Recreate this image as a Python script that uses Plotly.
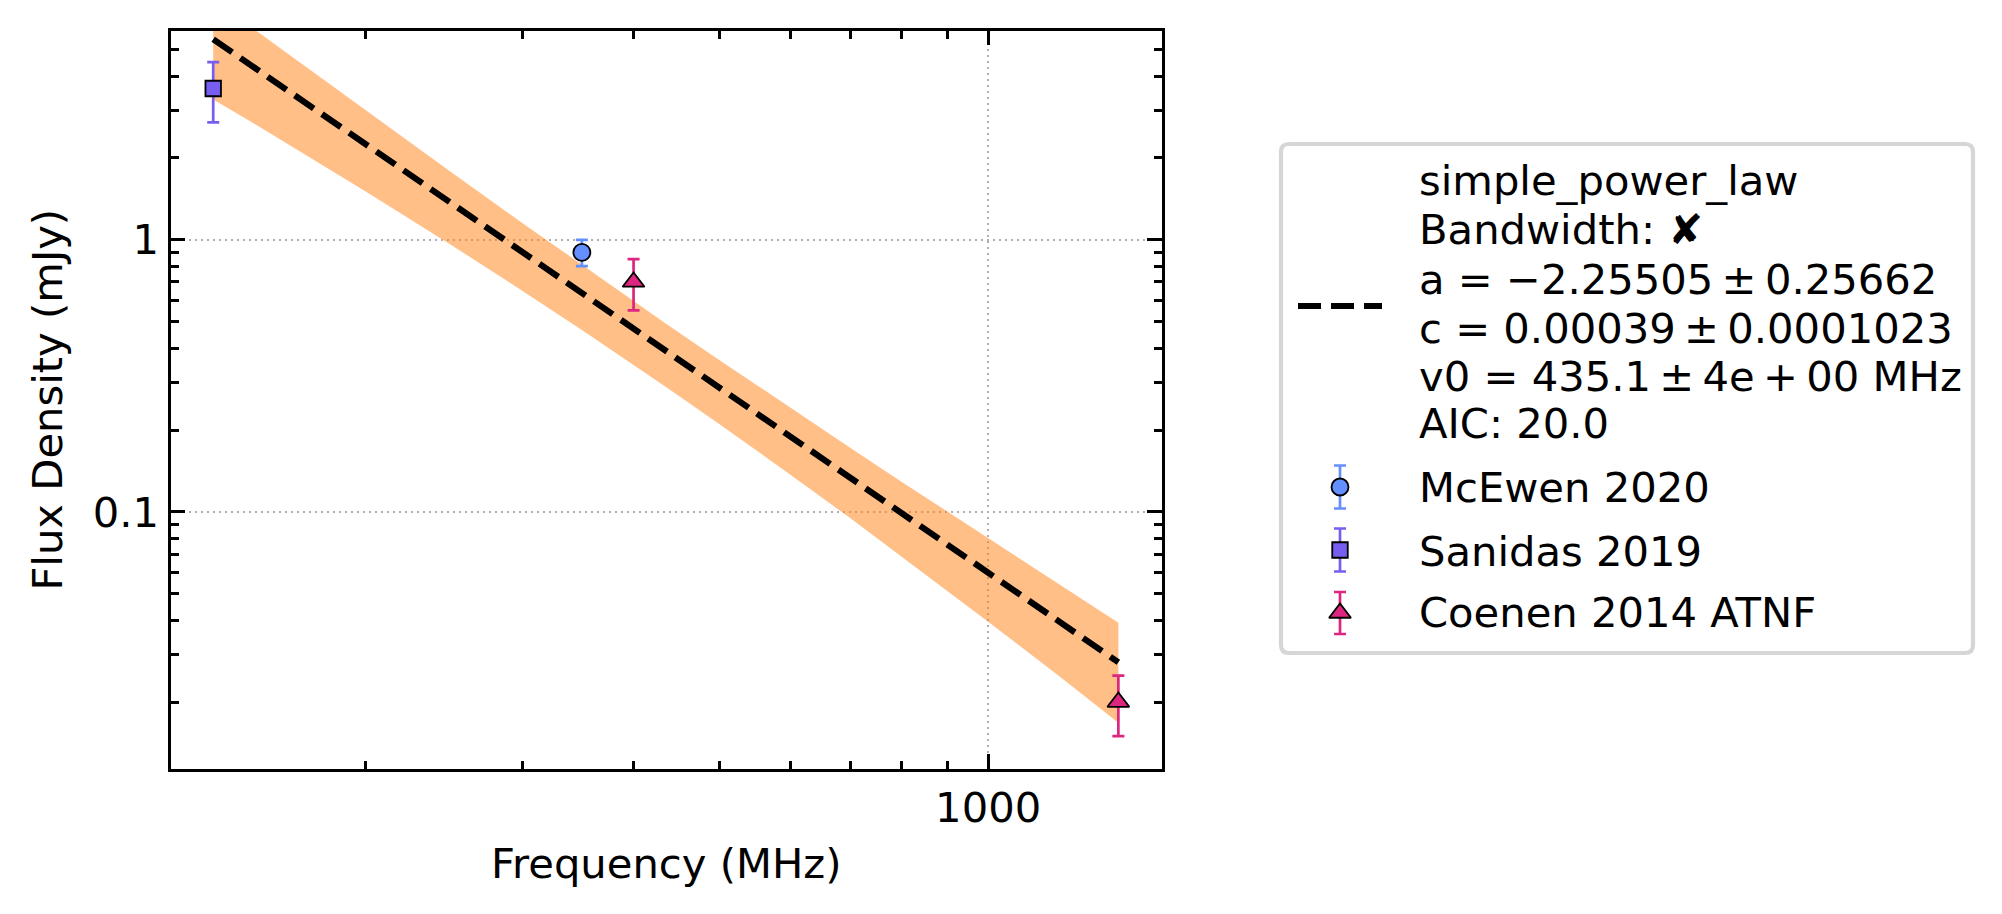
import plotly.graph_objects as go

# ---------------- data ----------------
mcewen_freq = [350]
mcewen_flux = [0.9]
mcewen_err = [0.1]

sanidas_freq = [135]
sanidas_flux = [3.6]
sanidas_err = [0.9]

coenen_freq = [400, 1400]
coenen_flux = [0.7, 0.02]
coenen_err = [0.15, 0.005]

fit_freq = [135, 1400]
fit_flux = [5.46, 0.0280]

band_freq = [135, 150, 175, 200, 250, 300, 350, 435, 500, 600, 700, 800, 1000, 1200, 1400]
band_upper = [7.64, 5.94, 4.11, 2.99, 1.767, 1.154, 0.808, 0.492, 0.3605, 0.2409, 0.1721, 0.1289, 0.0799, 0.0542, 0.0391]
band_lower = [3.28, 2.675, 1.973, 1.509, 0.955, 0.650, 0.466, 0.2877, 0.2096, 0.1370, 0.0949, 0.0686, 0.0395, 0.0250, 0.0168]

x_major = [1000]
x_major_text = ["1000"]
x_minor = [200, 300, 400, 500, 600, 700, 800, 900]
y_major = [0.1, 1]
y_major_text = ["0.1", "1"]
y_minor = [0.02, 0.03, 0.04, 0.05, 0.06, 0.07, 0.08, 0.09,
           0.2, 0.3, 0.4, 0.5, 0.6, 0.7, 0.8, 0.9, 2, 3, 4, 5]

fit_label_lines = [
    "simple_power_law",
    "Bandwidth: \u2718",
    "a = \u22122.25505\u2009\u00b1\u20090.25662",
    "c = 0.00039\u2009\u00b1\u20090.0001023",
    "v0 = 435.1\u2009\u00b1\u20094e\u2009+\u200900 MHz",
    "AIC: 20.0",
]
series_names = ["McEwen 2020", "Sanidas 2019", "Coenen 2014 ATNF"]

# ---------------- style ----------------
W, H = 2002, 914
FONT = "DejaVu Sans"
FS = 41.7
C_MC = "#648FFF"
C_SA = "#785EF0"
C_CO = "#DC267F"
C_BAND = "rgba(255,127,14,0.5)"
PL, PR, PT, PB = 170.5, 1162, 30.5, 769

fig = go.Figure()

# uncertainty band
fig.add_trace(go.Scatter(
    x=band_freq + band_freq[::-1], y=band_upper + band_lower[::-1],
    fill="toself", fillcolor=C_BAND, line=dict(width=0), mode="lines",
    hoverinfo="skip"))

# fit line
fig.add_trace(go.Scatter(
    x=fit_freq, y=fit_flux, mode="lines",
    line=dict(color="black", width=6.2, dash="23px,10px")))


def pts(x, y, err, color, symbol, size, xa="x", ya="y"):
    return go.Scatter(
        x=x, y=y, mode="markers", xaxis=xa, yaxis=ya,
        marker=dict(color=color, symbol=symbol, size=size,
                    line=dict(color="black", width=1.8)),
        error_y=dict(type="data", array=err, color=color, thickness=2.7, width=6),
        cliponaxis=False)


fig.add_trace(pts(mcewen_freq, mcewen_flux, mcewen_err, C_MC, "circle", 17))
fig.add_trace(pts(sanidas_freq, sanidas_flux, sanidas_err, C_SA, "square", 15.5))
fig.add_trace(pts(coenen_freq, coenen_flux, coenen_err, C_CO, "triangle-up", 19))

# ---------------- legend (overlay pixel axes) ----------------
LX0, LX1, LY0, LY1, R = 1281, 1973, 144, 653, 8
key_x = 1340
fig.add_trace(go.Scatter(x=[1298, 1382], y=[306, 306], xaxis="x2", yaxis="y2",
                         mode="lines", line=dict(color="black", width=6.2, dash="23px,10px")))
fig.add_trace(pts([key_x], [487], [21.5], C_MC, "circle", 17, "x2", "y2"))
fig.add_trace(pts([key_x], [550], [21.5], C_SA, "square", 15.5, "x2", "y2"))
fig.add_trace(pts([key_x], [613], [21], C_CO, "triangle-up", 19, "x2", "y2"))

path = (f"M{LX0+R},{LY0} L{LX1-R},{LY0} Q{LX1},{LY0} {LX1},{LY0+R} "
        f"L{LX1},{LY1-R} Q{LX1},{LY1} {LX1-R},{LY1} L{LX0+R},{LY1} "
        f"Q{LX0},{LY1} {LX0},{LY1-R} L{LX0},{LY0+R} Q{LX0},{LY0} {LX0+R},{LY0} Z")
fig.add_shape(type="path", path=path, xref="x2", yref="y2",
              line=dict(color="#d6d6d6", width=4.2), fillcolor="rgba(255,255,255,0.8)",
              layer="below")

baselines = [195, 244, 294, 343, 391, 438, 502, 566, 627]
labels = fit_label_lines + series_names
for txt, b in zip(labels, baselines):
    fig.add_annotation(x=1417, y=b - 14.4, xref="x2", yref="y2", text=txt,
                       showarrow=False, xanchor="left", yanchor="middle",
                       font=dict(family=FONT, size=FS, color="black"))

axis_common = dict(
    type="log", showline=True, linecolor="black", linewidth=3.3, mirror="allticks",
    ticks="inside", ticklen=14.6, tickwidth=3.3, tickcolor="black",
    tickfont=dict(family=FONT, size=FS, color="black"),
    showgrid=True, gridcolor="#b0b0b0", gridwidth=2.2, griddash="2.2px,3.8px",
    zeroline=False, automargin=True,
)

fig.update_layout(
    width=W, height=H,
    margin=dict(l=0, r=0, t=0, b=0, pad=0),
    paper_bgcolor="white", plot_bgcolor="rgba(0,0,0,0)",
    showlegend=False,
    font=dict(family=FONT, size=FS, color="black"),
    xaxis=dict(
        **axis_common, anchor="y",
        domain=[PL / W, PR / W], range=[2.0824, 3.1951],
        tickvals=x_major, ticktext=x_major_text,
        minor=dict(ticks="inside", ticklen=8.3, tickwidth=2.5, tickcolor="black",
                   tickvals=x_minor, showgrid=False),
        title=dict(text="Frequency (MHz)", font=dict(family=FONT, size=FS, color="black"),
                   standoff=18),
    ),
    yaxis=dict(
        **axis_common, anchor="x",
        domain=[1 - PB / H, 1 - PT / H], range=[-1.945, 0.7694],
        tickvals=y_major, ticktext=y_major_text,
        minor=dict(ticks="inside", ticklen=8.3, tickwidth=2.5, tickcolor="black",
                   tickvals=y_minor, showgrid=False),
        title=dict(text="Flux Density (mJy)", font=dict(family=FONT, size=FS, color="black"),
                   standoff=18),
    ),
    xaxis2=dict(domain=[0, 1], range=[0, W], visible=False, anchor="y2", fixedrange=True),
    yaxis2=dict(domain=[0, 1], range=[H, 0], visible=False, anchor="x2", fixedrange=True),
)

fig.write_html("out.html")
